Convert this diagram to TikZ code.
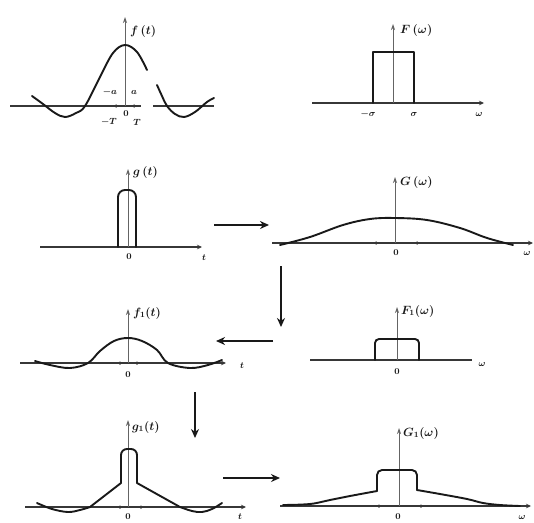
\documentclass[tikz,border=0pt]{standalone}
\usetikzlibrary{arrows.meta,positioning}
\definecolor{ink}{RGB}{25,25,25}
\definecolor{axclr}{RGB}{55,55,55}
\definecolor{thinax}{RGB}{100,100,100}
\tikzset{
  %% horizontal axes
  hax/.style={line width=1.3pt,color=axclr},
  hxa/.style={hax,-{Stealth[length=5pt,width=4.5pt]}},
  %% vertical axes (thin)
  vax/.style={line width=0.8pt,color=thinax,-{Stealth[length=6pt,width=4pt]}},
  %% signal / spectrum curves
  sig/.style={line width=1.9pt,color=ink,line join=round,line cap=round},
  %% transform arrows between panels
  xarr/.style={line width=2.8pt,color=ink,-{Stealth[length=9pt,width=8pt]}},
  %% labels
  lbl/.style={font=\large\boldmath,text=ink,inner sep=1pt},
  slbl/.style={font=\small\boldmath,text=ink,inner sep=1pt},
  %% tick dots on axes
  tck/.style={circle,fill=axclr,inner sep=0pt,minimum size=3.5pt},
}

\begin{document}
\begin{tikzpicture}[x=1pt,y=-1pt]
  \useasboundingbox (0,0) rectangle (534,522);
  \fill[white] (0,0) rectangle (534,522);

  %% f(t)
  \coordinate (fo) at (125,106);
  \draw[hax] (10,106) -- (141,106);
  \draw[hax] (153,106) -- (214,106);
  \draw[vax] (fo) -- (125,17);
  \draw[sig] plot[smooth,tension=0.6] coordinates {(32,96) (43,104) (55,113) (65,117) (76,113) (85,106) (100,77) (113,53) (125,45) (137,52) (147,70)};
  \draw[sig] plot[smooth,tension=0.6] coordinates {(157,85) (162,96) (167,106) (175,114) (184,117) (195,112) (207,102) (214,98)};
  \node[tck] (fta) at (116,106) {};
  \node[tck] (ftb) at (134,106) {};
  \node[lbl,anchor=west] (flbl) at (129,31) {$f\,(t)$};
  \node[slbl] (fma) at (110,92) {$-a$};
  \node[slbl] (fpa) at (134,92) {$a$};
  \node[slbl] (fzero) at (126,114) {$0$};
  \node[slbl] (fmT) at (109,122) {$-T$};
  \node[slbl] (fpT) at (137,122) {$T$};

  %% F(w)
  \coordinate (Fo) at (393,103);
  \draw[hxa] (312,103) -- (484,103);
  \draw[vax] (Fo) -- (393,24);
  \draw[sig] (373,103) -- (373,52) -- (414,52) -- (414,103);
  \node[lbl,anchor=west] (Flbl) at (399,30) {$F\,(\omega)$};
  \node[slbl] (Fms) at (368,114) {$-\sigma$};
  \node[slbl] (Fps) at (414,114) {$\sigma$};
  \node[slbl] (Fw) at (479,114) {$\omega$};

  %% g(t)
  \coordinate (go) at (128,247);
  \draw[hxa] (40,247) -- (202,247);
  \draw[vax] (go) -- (128,169);
  \draw[sig,rounded corners=7pt] (118,247) -- (118,190) -- (136,190) -- (136,247);
  \node[lbl,anchor=west] (glbl) at (132,172) {$g\,(t)$};
  \node[slbl] (gzero) at (129,257) {$0$};
  \node[slbl] (gt) at (204,258) {$t$};

  %% G(w)
  \coordinate (Go) at (395,243);
  \draw[hxa] (272,243) -- (533,243);
  \draw[vax] (Go) -- (395,177);
  \draw[sig] plot[smooth,tension=0.6] coordinates {(280,245) (310,237) (343,225) (370,219) (395,218) (427,220) (460,228) (487,238) (513,245)};
  \node[tck] (Gta) at (376,243) {};
  \node[tck] (Gtb) at (417,243) {};
  \node[lbl,anchor=west] (Glbl) at (399,182) {$G\,(\omega)$};
  \node[slbl] (Gzero) at (396,253) {$0$};
  \node[slbl] (Gw) at (527,253) {$\omega$};

  %% f1(t)
  \coordinate (f1o) at (128,363);
  \draw[hxa] (20,363) -- (226,363);
  \draw[vax] (f1o) -- (128,309);
  \draw[sig] plot[smooth,tension=0.6] coordinates {(35,361) (50,365) (70,368) (88,363) (100,351) (114,341) (128,338) (142,341) (157,350) (168,363) (190,368) (208,365) (222,360)};
  \node[tck] (f1ta) at (120,363) {};
  \node[tck] (f1tb) at (137,363) {};
  \node[lbl,anchor=west] (f1lbl) at (132,313) {$f_1(t)$};
  \node[slbl] (f1zero) at (128,375) {$0$};
  \node[slbl] (f1t) at (242,366) {$t$};

  %% F1(w)
  \coordinate (F1o) at (397,360);
  \draw[hax] (310,360) -- (472,360);
  \draw[vax] (F1o) -- (397,307);
  \draw[sig,rounded corners=4pt] (375,360) -- (375,339) -- (419,339) -- (419,360);
  \node[lbl,anchor=west] (F1lbl) at (400,311) {$F_1(\omega)$};
  \node[slbl] (F1zero) at (397,372) {$0$};
  \node[slbl] (F1w) at (482,364) {$\omega$};

  %% g1(t)
  \coordinate (g1o) at (128,507);
  \draw[hxa] (25,507) -- (246,507);
  \draw[vax] (g1o) -- (128,420);
  \draw[sig] plot[smooth,tension=0.6] coordinates {(37,503) (52,509) (68,512) (80,510) (90,507)} -- (121,483);
  \draw[sig,rounded corners=6pt] (121,483) -- (121,449) -- (137,449) -- (137,483);
  \draw[sig] (137,483) -- plot[smooth,tension=0.6] coordinates {(180,507) (192,511) (202,512) (212,509) (222,503)};
  \node[tck] (g1ta) at (120,507) {};
  \node[tck] (g1tb) at (141,507) {};
  \node[lbl,anchor=west] (g1lbl) at (131,427) {$g_1(t)$};
  \node[slbl] (g1zero) at (128,517) {$0$};
  \node[slbl] (g1t) at (240,517) {$t$};

  %% G1(w)
  \coordinate (G1o) at (399,506);
  \draw[hxa] (280,506) -- (531,506);
  \draw[vax] (G1o) -- (399,428);
  \draw[sig] plot[smooth,tension=0.6] coordinates {(283,505) (310,504) (330,500) (350,496) (377,491)};
  \draw[sig,rounded corners=5pt] (377,491) -- (377,470) -- (417,470) -- (417,490);
  \draw[sig] plot[smooth,tension=0.6] coordinates {(417,490) (440,494) (467,499) (483,503) (500,505) (520,506)};
  \node[tck] (G1ta) at (379,506) {};
  \node[tck] (G1tb) at (421,506) {};
  \node[lbl,anchor=west] (G1lbl) at (402,433) {$G_1(\omega)$};
  \node[slbl] (G1zero) at (398,517) {$0$};
  \node[slbl] (G1w) at (522,517) {$\omega$};

  %% transform arrows
  \coordinate (a1s) at (214,225); \coordinate (a1e) at (269,225);
  \coordinate (a2s) at (281,266); \coordinate (a2e) at (281,327);
  \coordinate (a3s) at (273,341); \coordinate (a3e) at (216,341);
  \coordinate (a4s) at (195,392); \coordinate (a4e) at (195,438);
  \coordinate (a5s) at (223,478); \coordinate (a5e) at (280,478);
  \draw[xarr] (a1s) -- (a1e);
  \draw[xarr] (a2s) -- (a2e);
  \draw[xarr] (a3s) -- (a3e);
  \draw[xarr] (a4s) -- (a4e);
  \draw[xarr] (a5s) -- (a5e);
\end{tikzpicture}
\end{document}
